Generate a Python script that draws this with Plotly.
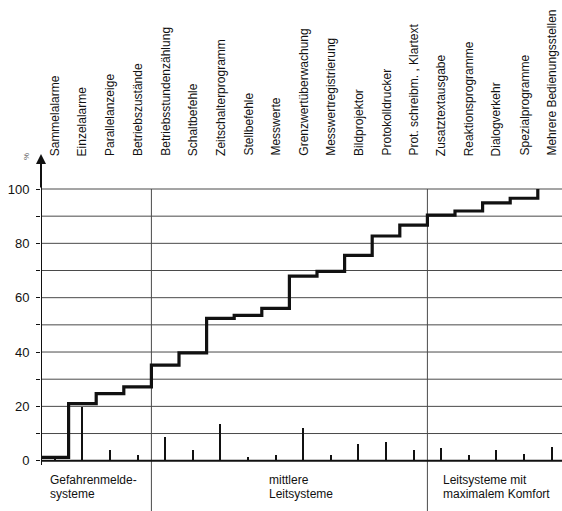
import numpy as np
import plotly.graph_objects as go

# ---- data ----
categories = [
    "Sammelalarme", "Einzelalarme", "Parallelanzeige", "Betriebszustände",
    "Betriebsstundenzählung", "Schaltbefehle", "Zeitschalterprogramm", "Stellbefehle",
    "Messwerte", "Grenzwertüberwachung", "Messwertregistrierung", "Bildprojektor",
    "Protokolldrucker", "Prot. schreibm. , Klartext", "Zusatztextausgabe",
    "Reaktionsprogramme", "Dialogverkehr", "Spezialprogramme", "Mehrere Bedienungsstellen",
]
# individual share of each feature (%)
share = [1.2, 19.6, 4.0, 2.0, 8.6, 4.0, 13.5, 1.5, 2.0, 12.0, 2.0, 6.0, 7.0, 4.0, 4.5, 2.0, 4.0, 2.6, 5.0]
# cumulative level (%)
cumulative = [1.2, 21.0, 24.7, 27.2, 35.2, 39.7, 52.4, 53.5, 56.1, 67.9, 69.7, 75.6, 82.7,
              86.7, 90.4, 91.9, 94.9, 96.6, 100.0]
y_tickvals = [0, 10, 20, 30, 40, 50, 60, 70, 80, 90, 100]
y_ticktext = ["0", "", "20", "", "40", "", "60", "", "80", "", "100"]
group_labels = [
    ["Gefahrenmelde-", "systeme"],
    ["mittlere", "Leitsysteme"],
    ["Leitsysteme mit", "maximalem Komfort"],
]
dividers = [3.5, 13.5]

# ---- geometry ----
W, H = 562, 511
ML = 41
PX_CAT = 27.6
Y0_PX = 460.7
PX_UNIT = 2.717
x_lo = -0.5
x_hi = x_lo + (W - ML) / PX_CAT
y_hi = Y0_PX / PX_UNIT
y_lo = -(H - Y0_PX) / PX_UNIT
group_label_left_px = [49, 268, 442]

FONT = "Liberation Sans, Arial, sans-serif"
INK = "#111111"
GRID = "#4a4a4a"

idx = np.arange(len(categories))
edges = idx - 0.5

fig = go.Figure()

# individual shares as thin spikes
fig.add_trace(go.Bar(x=idx, y=share, width=0.07, marker=dict(color=INK, line=dict(width=0)),
                     showlegend=False, hoverinfo="skip"))

# cumulative step line
fig.add_trace(go.Scatter(x=edges, y=cumulative, mode="lines", line=dict(color=INK, width=3.2, shape="hv"),
                         showlegend=False, hoverinfo="skip"))

shapes = []
# horizontal grid lines
for v in y_tickvals[1:]:
    shapes.append(dict(type="line", xref="x", yref="y", x0=x_lo, x1=x_hi, y0=v, y1=v,
                       line=dict(color=GRID, width=1), layer="below"))
# group dividers
for d in dividers:
    shapes.append(dict(type="line", xref="x", yref="y", x0=d, x1=d, y0=100, y1=y_lo,
                       line=dict(color=GRID, width=1), layer="below"))
# x axis baseline
shapes.append(dict(type="line", xref="x", yref="y", x0=x_lo, x1=x_hi, y0=0, y1=0,
                   line=dict(color=INK, width=2)))
# y axis line (below zero a bit)
shapes.append(dict(type="line", xref="x", yref="y", x0=x_lo, x1=x_lo, y0=-1.6, y1=108,
                   line=dict(color=INK, width=2)))

annotations = []
# y axis arrow
annotations.append(dict(x=x_lo, y=(Y0_PX - 154) / PX_UNIT, ax=x_lo, ay=100, xref="x", yref="y",
                        axref="x", ayref="y", showarrow=True, arrowhead=2, arrowsize=1,
                        arrowwidth=2, arrowcolor=INK, text="", standoff=0))
# percent sign
annotations.append(dict(x=-0.5, y=(Y0_PX - 157) / PX_UNIT, xref="x", yref="y", xshift=-15,
                        text="%", textangle=-90, showarrow=False,
                        font=dict(family=FONT, size=8, color="#555")))
# category labels (rotated)
label_bottom = (Y0_PX - 157) / PX_UNIT
for i, c in enumerate(categories):
    annotations.append(dict(x=i, y=label_bottom, xref="x", yref="y", text=c, textangle=-90,
                            xanchor="center", yanchor="bottom", showarrow=False,
                            font=dict(family=FONT, size=12, color=INK), borderpad=0))
# group labels
for lines, left_px in zip(group_labels, group_label_left_px):
    for k, t in enumerate(lines):
        annotations.append(dict(x=left_px / W, xref="paper", y=(Y0_PX - (480 + 14 * k)) / PX_UNIT,
                                yref="y", text=t, xanchor="left", yanchor="middle", showarrow=False,
                                borderpad=0, font=dict(family=FONT, size=12, color=INK)))
# convert paper x for group labels (paper spans the plot area only)
for a in annotations:
    if a.get("xref") == "paper":
        a["x"] = (a["x"] * W - ML) / (W - ML)

fig.update_layout(
    width=W, height=H,
    margin=dict(l=ML, r=0, t=0, b=0, autoexpand=False),
    paper_bgcolor="white", plot_bgcolor="white",
    shapes=shapes, annotations=annotations,
    bargap=0,
    xaxis=dict(range=[x_lo, x_hi], showgrid=False, zeroline=False, showline=False,
               showticklabels=False, ticks="", automargin=False),
    yaxis=dict(range=[y_lo, y_hi], showgrid=False, zeroline=False, showline=False,
               tickmode="array", tickvals=y_tickvals, ticktext=y_ticktext,
               ticks="outside", ticklen=4, tickwidth=1, tickcolor=INK, automargin=False,
               tickfont=dict(family=FONT, size=13, color=INK), ticklabelstandoff=4),
    font=dict(family=FONT),
)

fig.write_html("out.html", config={"displayModeBar": False, "staticPlot": True},
               post_script="document.body.style.margin='0';document.body.style.overflow='hidden';")
